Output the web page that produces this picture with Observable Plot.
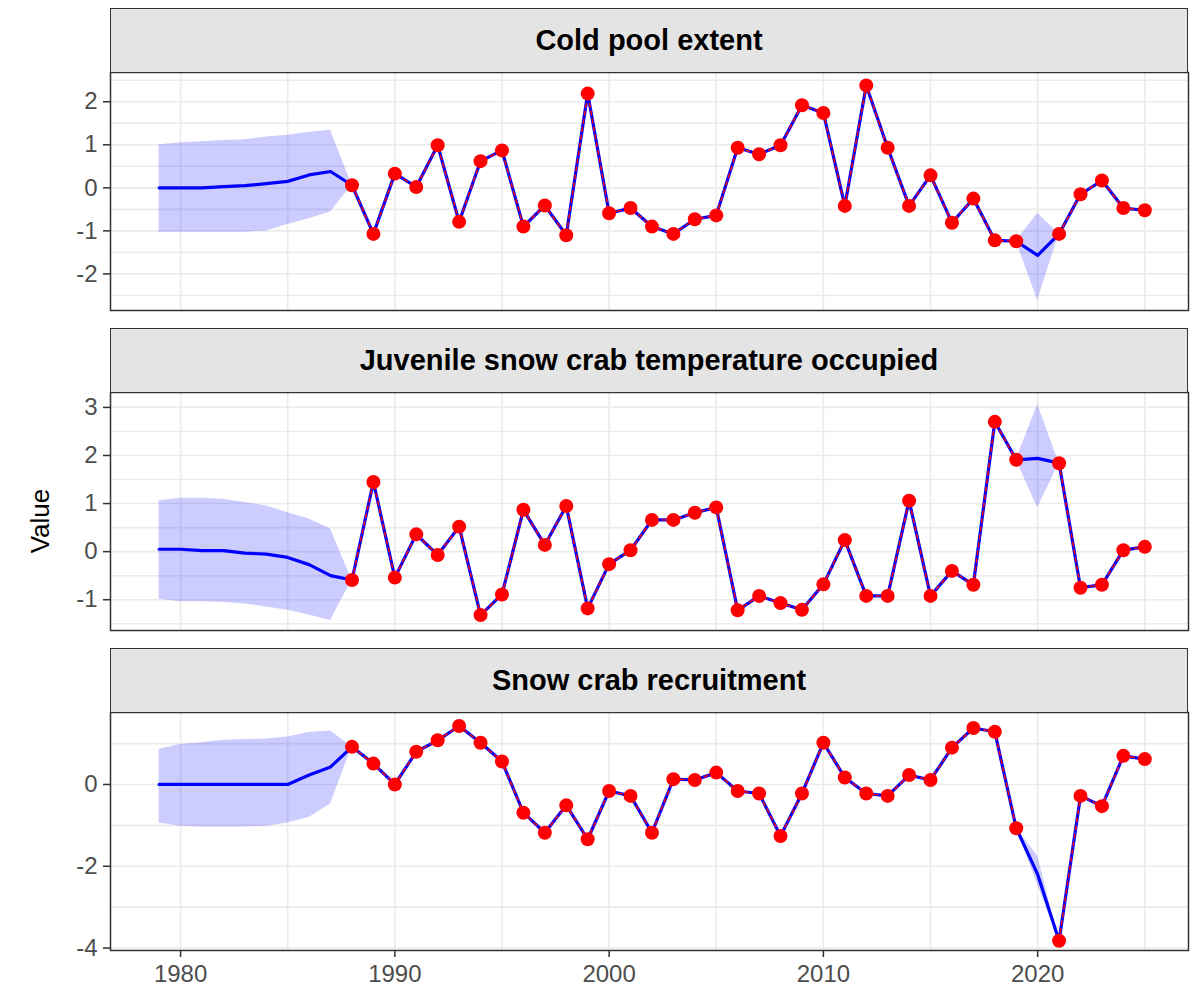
<!DOCTYPE html>
<html>
<head>
<meta charset="utf-8">
<script src="https://cdn.jsdelivr.net/npm/d3@7"></script>
<script src="https://cdn.jsdelivr.net/npm/@observablehq/plot@0.6"></script>
<style>
  html, body { margin: 0; padding: 0; background: #ffffff; }
  #chart { position: relative; width: 1198px; height: 1000px; background: #ffffff; overflow: hidden;
           font-family: "Liberation Sans", Arial, sans-serif; }
  .strip { position: absolute; left: 110px; width: 1078px; height: 65px; box-sizing: border-box;
           border: 1.5px solid #333333; background: #e4e4e4; display: flex; align-items: center;
           justify-content: center; font-weight: bold; font-size: 29px; color: #000000; }
  .panel { position: absolute; left: 0; }
  .ytitle { position: absolute; left: 40px; top: 521px; transform: translate(-50%, -50%) rotate(-90deg);
            font-size: 26px; color: #000000; white-space: nowrap; line-height: 1; }
</style>
</head>
<body>
<div id="chart"></div>
<script>
// ---------- DATA ----------
const years = [1979,1980,1981,1982,1983,1984,1985,1986,1987,
  1988,1989,1990,1991,1992,1993,1994,1995,1996,1997,
  1998,1999,2000,2001,2002,2003,2004,2005,2006,2007,
  2008,2009,2010,2011,2012,2013,2014,2015,2016,2017,
  2018,2019,2020,2021,2022,2023,2024,2025];

const panelTitles = ["Cold pool extent", "Juvenile snow crab temperature occupied", "Snow crab recruitment"];
const yTitle = "Value";

// Cold pool extent
const coldObs = [null,null,null,null,null,null,null,null,null,
  0.06,-1.07,0.33,0.02,0.99,-0.79,0.62,0.87,-0.90,-0.41,
  -1.10,2.19,-0.59,-0.47,-0.90,-1.07,-0.73,-0.64,0.93,0.78,
  0.99,1.92,1.74,-0.42,2.38,0.93,-0.42,0.29,-0.81,-0.25,
  -1.22,-1.24,null,-1.07,-0.15,0.17,-0.47,-0.52];
const coldEst = [0,0,0,0.03,0.05,0.1,0.15,0.3,0.38,
  0.06,-1.07,0.33,0.02,0.99,-0.79,0.62,0.87,-0.90,-0.41,
  -1.10,2.19,-0.59,-0.47,-0.90,-1.07,-0.73,-0.64,0.93,0.78,
  0.99,1.92,1.74,-0.42,2.38,0.93,-0.42,0.29,-0.81,-0.25,
  -1.22,-1.24,-1.57,-1.07,-0.15,0.17,-0.47,-0.52];
const coldLo = [-1.03,-1.03,-1.03,-1.03,-1.03,-1.0,-0.85,-0.72,-0.56,
  0.06,null,null,null,null,null,null,null,null,null,
  null,null,null,null,null,null,null,null,null,null,
  null,null,null,null,null,null,null,null,null,null,
  null,-1.24,-2.62,-1.07,null,null,null,null];
const coldHi = [1.0,1.05,1.07,1.1,1.12,1.18,1.22,1.29,1.34,
  0.06,null,null,null,null,null,null,null,null,null,
  null,null,null,null,null,null,null,null,null,null,
  null,null,null,null,null,null,null,null,null,null,
  null,-1.24,-0.59,-1.07,null,null,null,null];

// Juvenile snow crab temperature occupied
const juvObs = [null,null,null,null,null,null,null,null,null,
  -0.59,1.45,-0.54,0.36,-0.07,0.52,-1.32,-0.89,0.87,0.14,
  0.95,-1.18,-0.26,0.03,0.66,0.66,0.81,0.92,-1.22,-0.92,
  -1.07,-1.21,-0.68,0.24,-0.92,-0.92,1.06,-0.92,-0.40,-0.69,
  2.70,1.91,null,1.84,-0.75,-0.69,0.03,0.10];
const juvEst = [0.05,0.05,0.02,0.02,-0.03,-0.05,-0.12,-0.27,-0.50,
  -0.59,1.45,-0.54,0.36,-0.07,0.52,-1.32,-0.89,0.87,0.14,
  0.95,-1.18,-0.26,0.03,0.66,0.66,0.81,0.92,-1.22,-0.92,
  -1.07,-1.21,-0.68,0.24,-0.92,-0.92,1.06,-0.92,-0.40,-0.69,
  2.70,1.91,1.94,1.84,-0.75,-0.69,0.03,0.10];
const juvLo = [-0.99,-1.04,-1.04,-1.06,-1.09,-1.15,-1.22,-1.32,-1.43,
  -0.59,null,null,null,null,null,null,null,null,null,
  null,null,null,null,null,null,null,null,null,null,
  null,null,null,null,null,null,null,null,null,null,
  null,1.91,0.91,1.84,null,null,null,null];
const juvHi = [1.06,1.11,1.11,1.09,1.02,0.95,0.81,0.68,0.47,
  -0.59,null,null,null,null,null,null,null,null,null,
  null,null,null,null,null,null,null,null,null,null,
  null,null,null,null,null,null,null,null,null,null,
  null,1.91,3.06,1.84,null,null,null,null];

// Snow crab recruitment
const recObs = [null,null,null,null,null,null,null,null,null,
  0.92,0.51,0.00,0.80,1.08,1.43,1.02,0.56,-0.69,-1.18,
  -0.51,-1.34,-0.16,-0.28,-1.18,0.13,0.11,0.29,-0.16,-0.22,
  -1.26,-0.22,1.02,0.17,-0.22,-0.28,0.23,0.11,0.90,1.38,
  1.29,-1.07,null,-3.82,-0.28,-0.53,0.70,0.62];
const recEst = [0,0,0,0,0,0,0,0.23,0.43,
  0.92,0.51,0.00,0.80,1.08,1.43,1.02,0.56,-0.69,-1.18,
  -0.51,-1.34,-0.16,-0.28,-1.18,0.13,0.11,0.29,-0.16,-0.22,
  -1.26,-0.22,1.02,0.17,-0.22,-0.28,0.23,0.11,0.90,1.38,
  1.29,-1.07,-2.20,-3.82,-0.28,-0.53,0.70,0.62];
const recLo = [-0.94,-1.02,-1.04,-1.04,-1.04,-1.02,-0.94,-0.81,-0.48,
  0.92,null,null,null,null,null,null,null,null,null,
  null,null,null,null,null,null,null,null,null,null,
  null,null,null,null,null,null,null,null,null,null,
  null,-1.07,-2.45,-3.82,null,null,null,null];
const recHi = [0.86,0.98,1.02,1.08,1.10,1.11,1.16,1.27,1.31,
  0.92,null,null,null,null,null,null,null,null,null,
  null,null,null,null,null,null,null,null,null,null,
  null,null,null,null,null,null,null,null,null,null,
  null,-1.07,-1.75,-3.82,null,null,null,null];

// Axis ticks
const xTickLabels = [1980, 1990, 2000, 2010, 2020];
const xGridTicks = [1980, 1985, 1990, 1995, 2000, 2005, 2010, 2015, 2020, 2025];
const coldYTicks = [-2, -1, 0, 1, 2];
const coldYGrid = [-2.5, -2, -1.5, -1, -0.5, 0, 0.5, 1, 1.5, 2, 2.5];
const juvYTicks = [-1, 0, 1, 2, 3];
const juvYGrid = [-1.5, -1, -0.5, 0, 0.5, 1, 1.5, 2, 2.5, 3];
const recYTicks = [-4, -2, 0];
const recYGrid = [-4, -3, -2, -1, 0, 1];

// ---------- LAYOUT ----------
const panels = [
  {title: panelTitles[0], est: coldEst, lo: coldLo, hi: coldHi, obs: coldObs,
   yDomain: [-2.85, 2.68], yTicks: coldYTicks, yGrid: coldYGrid, stripTop: 8, plotTop: 72, xAxis: false},
  {title: panelTitles[1], est: juvEst, lo: juvLo, hi: juvHi, obs: juvObs,
   yDomain: [-1.64, 3.31], yTicks: juvYTicks, yGrid: juvYGrid, stripTop: 328, plotTop: 392, xAxis: false},
  {title: panelTitles[2], est: recEst, lo: recLo, hi: recHi, obs: recObs,
   yDomain: [-4.06, 1.76], yTicks: recYTicks, yGrid: recYGrid, stripTop: 648, plotTop: 712, xAxis: true}
];

const chart = document.getElementById("chart");
const plotH = 238, mTop = 4;

for (const p of panels) {
  const rows = years.map((year, i) => ({year, est: p.est[i], lo: p.lo[i], hi: p.hi[i], obs: p.obs[i]}));
  const mBottom = p.xAxis ? 50 : 4;
  const marks = [
    Plot.gridX({ticks: xGridTicks, stroke: "#ebebeb", strokeOpacity: 1, strokeWidth: 1.6}),
    Plot.gridY({ticks: p.yGrid, stroke: "#ebebeb", strokeOpacity: 1, strokeWidth: 1.6}),
    Plot.areaY(rows, {x: "year", y1: "lo", y2: "hi", fill: "#0000ff", fillOpacity: 0.2}),
    Plot.line(rows, {x: "year", y: "est", stroke: "#0000ff", strokeWidth: 3.2}),
    Plot.line(rows, {x: "year", y: "obs", stroke: "#ff0000", strokeWidth: 1.4, strokeDasharray: "4,4"}),
    Plot.dot(rows, {x: "year", y: "obs", r: 7, fill: "#ff0000", stroke: "none"}),
    Plot.frame({stroke: "#333333", strokeWidth: 1.5}),
    Plot.axisY({ticks: p.yTicks, tickFormat: d => String(d), tickSize: 7, tickPadding: 6,
                fontSize: 24, fill: "#4d4d4d", stroke: "#333333", strokeWidth: 1.5, label: null})
  ];
  if (p.xAxis) {
    marks.push(Plot.axisX({ticks: xTickLabels, tickFormat: d => String(d), tickSize: 7, tickPadding: 7,
                           fontSize: 24, fill: "#4d4d4d", stroke: "#333333", strokeWidth: 1.5, label: null}));
  }
  const svg = Plot.plot({
    width: 1198,
    height: mTop + plotH + mBottom,
    marginLeft: 110,
    marginRight: 10,
    marginTop: mTop,
    marginBottom: mBottom,
    x: {domain: [1976.73, 2027.04], axis: null},
    y: {domain: p.yDomain, axis: null},
    style: {fontFamily: "Liberation Sans, Arial, sans-serif", background: "transparent", overflow: "visible"},
    marks
  });
  svg.classList.add("panel");
  svg.style.top = (p.plotTop - mTop) + "px";
  svg.style.position = "absolute";
  svg.style.left = "0px";
  chart.appendChild(svg);

  const strip = document.createElement("div");
  strip.className = "strip";
  strip.style.top = p.stripTop + "px";
  strip.textContent = p.title;
  chart.appendChild(strip);
}

const yt = document.createElement("div");
yt.className = "ytitle";
yt.textContent = yTitle;
chart.appendChild(yt);
</script>
</body>
</html>
